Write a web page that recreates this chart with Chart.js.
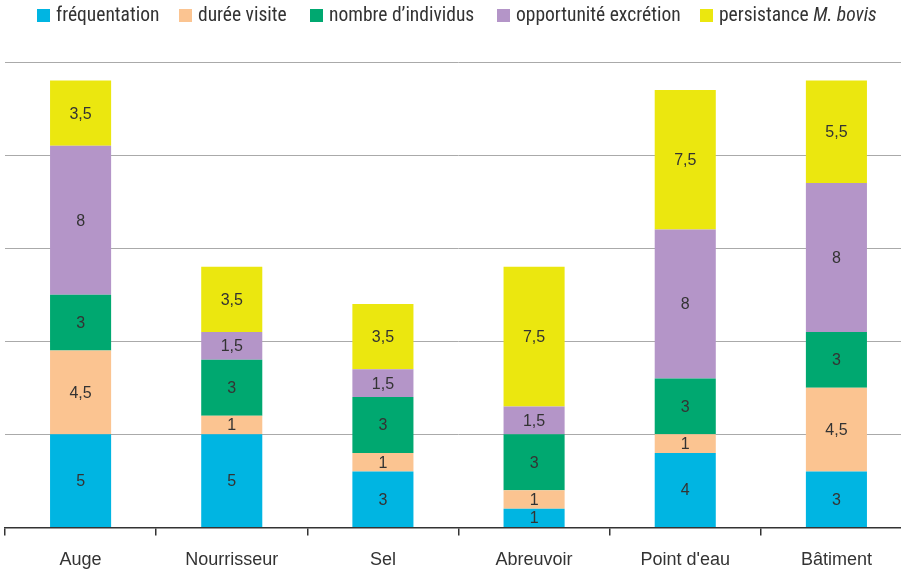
<!DOCTYPE html>
<html>
<head>
<meta charset="utf-8">
<script src="https://cdn.jsdelivr.net/npm/chart.js@4"></script>
<style>
  html, body { margin: 0; padding: 0; background: #fff; overflow: hidden; }
  #wrap { position: relative; width: 901px; height: 573px; overflow: hidden; }
  #legend {
    position: absolute; top: 3px; left: 0; width: 901px; height: 30px; white-space: nowrap;
    font-family: "Liberation Sans Narrow", "Roboto Condensed", "Liberation Sans", sans-serif;
    font-size: 19.5px; color: #333;
  }
  #legend span.item { position: absolute; top: 0; }
  #legend span.box { display: inline-block; width: 13px; height: 13px; margin-right: 6px; vertical-align: -1px; }
  canvas { position: absolute; top: 0; left: 0; }
</style>
</head>
<body>
<div id="wrap">
  <canvas id="chart" width="912" height="589"></canvas>
  <div id="legend"></div>
</div>
<script>
const categories = ['Auge', 'Nourrisseur', 'Sel', 'Abreuvoir', "Point d'eau", 'Bâtiment'];
const frequentation = [5, 5, 3, 1, 4, 3];
const dureeVisite = [4.5, 1, 1, 1, 1, 4.5];
const nombreIndividus = [3, 3, 3, 3, 3, 3];
const opportuniteExcretion = [8, 1.5, 1.5, 1.5, 8, 8];
const persistance = [3.5, 3.5, 3.5, 7.5, 7.5, 5.5];

const series = [
  { label: 'fréquentation', html: 'fréquentation', data: frequentation, color: '#00b5e2' },
  { label: 'durée visite', html: 'durée visite', data: dureeVisite, color: '#fbc491' },
  { label: 'nombre d’individus', html: 'nombre d’individus', data: nombreIndividus, color: '#00a870' },
  { label: 'opportunité excrétion', html: 'opportunité excrétion', data: opportuniteExcretion, color: '#b495c8' },
  { label: 'persistance M. bovis', html: 'persistance <i>M. bovis</i>', data: persistance, color: '#ebe70f' }
];

// html legend (needed for the italic part), items placed like the original
const legendLeft = [37, 179, 310, 497, 700];
const legendEl = document.getElementById('legend');
series.forEach(function (s, i) {
  const item = document.createElement('span');
  item.className = 'item';
  item.style.left = legendLeft[i] + 'px';
  item.innerHTML = '<span class="box" style="background:' + s.color + '"></span>' + s.html;
  legendEl.appendChild(item);
});

// values written in the middle of each segment
const segmentLabels = {
  id: 'segmentLabels',
  afterDatasetsDraw(chart) {
    const ctx = chart.ctx;
    ctx.save();
    ctx.font = '16px "Liberation Sans Narrow", "Liberation Sans", sans-serif';
    ctx.fillStyle = '#333';
    ctx.textAlign = 'center';
    ctx.textBaseline = 'middle';
    chart.data.datasets.forEach(function (ds, i) {
      chart.getDatasetMeta(i).data.forEach(function (bar, j) {
        const v = ds.data[j];
        if (!v) return;
        const mid = (bar.y + bar.base) / 2;
        ctx.fillText(String(v).replace('.', ','), bar.x, mid + 1);
      });
    });
    ctx.restore();
  }
};

new Chart(document.getElementById('chart').getContext('2d'), {
  type: 'bar',
  data: {
    labels: categories,
    datasets: series.map(function (s) {
      return {
        label: s.label,
        data: s.data,
        backgroundColor: s.color,
        borderWidth: 0,
        barPercentage: 0.404,
        categoryPercentage: 1
      };
    })
  },
  options: {
    responsive: false,
    animation: false,
    layout: { padding: { left: 5, top: 62, right: 0, bottom: 4 } },
    plugins: {
      legend: { display: false },
      tooltip: { enabled: false }
    },
    scales: {
      x: {
        stacked: true,
        border: { display: true, color: '#333', width: 1.5 },
        grid: { display: true, offset: true, drawOnChartArea: false, drawTicks: true, tickLength: 8, color: '#333', lineWidth: 1.5 },
        ticks: {
          color: '#333', padding: 14,
          font: { family: '"Liberation Sans Narrow", "Liberation Sans", sans-serif', size: 18 }
        }
      },
      y: {
        stacked: true,
        min: 0, max: 25,
        border: { display: false },
        grid: { color: '#aaaaaa', lineWidth: 1, drawTicks: false },
        ticks: { display: false, stepSize: 5 }
      }
    }
  },
  plugins: [segmentLabels]
});
</script>
</body>
</html>
